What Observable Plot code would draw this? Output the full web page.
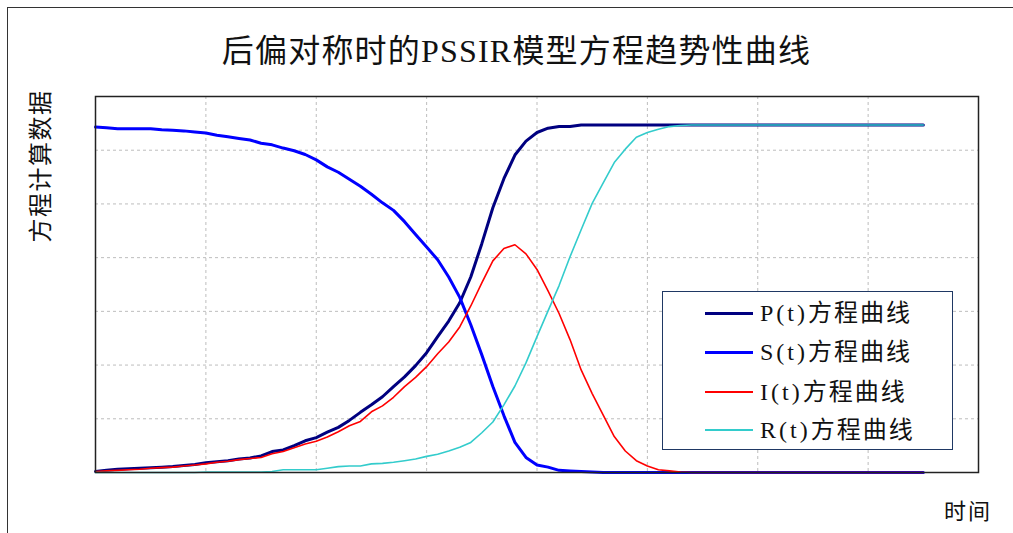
<!DOCTYPE html>
<html>
<head>
<meta charset="utf-8">
<script src="https://cdn.jsdelivr.net/npm/d3@7"></script>
<script src="https://cdn.jsdelivr.net/npm/@observablehq/plot@0.6"></script>
<style>
  html, body { margin: 0; padding: 0; background: #fff; width: 1013px; height: 533px; overflow: hidden; }
  #wrap { position: relative; width: 1013px; height: 533px; font-family: "Liberation Serif", "Noto Sans CJK SC", serif; color: #111; }
  #outer { position: absolute; left: 7px; top: 7px; width: 1100px; height: 700px; border-left: 1.5px solid #333; border-top: 1.5px solid #333; }
  #chart { position: absolute; left: 0; top: 0; }
  #title { position: absolute; left: 10px; width: 1013px; top: 31px; text-align: center; font-size: 32px; letter-spacing: 1.2px; line-height: 40px; }
  #ylabel { position: absolute; left: 41px; top: 166px; transform: translate(-50%, -50%) rotate(-90deg); font-size: 24px; letter-spacing: 1.5px; white-space: nowrap; line-height: 26px; }
  #xlabel { position: absolute; left: 968px; top: 509px; transform: translate(-50%, -50%); font-size: 22px; letter-spacing: 2px; white-space: nowrap; }
  #legend { position: absolute; left: 662px; top: 291px; width: 291px; height: 159px; box-sizing: border-box; border: 1.5px solid #1f3864; background: #fff; }
  .row { position: absolute; left: 0; height: 30px; display: flex; align-items: center; }
  .sw { position: absolute; left: 42px; width: 48px; }
  .lbl { position: absolute; left: 97px; font-size: 24px; white-space: nowrap; line-height: 30px; }
  .lat { letter-spacing: 3px; }
  .cjk { letter-spacing: 2px; }
</style>
</head>
<body>
<div id="wrap">
  <div id="outer"></div>
  <div id="chart"></div>
  <div id="title">后偏对称时的PSSIR模型方程趋势性曲线</div>
  <div id="ylabel">方程计算数据</div>
  <div id="xlabel">时间</div>
  <div id="legend"></div>
</div>
<script>
// time steps
const tValues = [0,1,2,3,4,5,6,7,8,9,10,11,12,13,14,15,16,17,18,19,20,21,22,23,24,25,26,27,28,29,30,31,32,33,34,35,36,37,38,39,40,41,42,43,44,45,46,47,48,49,50,51,52,53,54,55,56,57,58,59,60,61,62,63,64,65,66,67,68,69,70,71,72,73,74,75];

const seriesNames = ["P(t)方程曲线", "S(t)方程曲线", "I(t)方程曲线", "R(t)方程曲线"];

const P = [0.02,0.04,0.06,0.07,0.08,0.09,0.10,0.11,0.13,0.15,0.18,0.20,0.22,0.25,0.27,0.31,0.39,0.42,0.50,0.59,0.65,0.75,0.84,0.97,1.12,1.26,1.41,1.60,1.78,1.99,2.23,2.53,2.82,3.16,3.64,4.26,4.93,5.47,5.91,6.17,6.33,6.41,6.44,6.44,6.47,6.47,6.47,6.47,6.47,6.47,6.47,6.47,6.47,6.47,6.47,6.47,6.47,6.47,6.47,6.47,6.47,6.47,6.47,6.47,6.47,6.47,6.47,6.47,6.47,6.47,6.47,6.47,6.47,6.47,6.47,6.47];

const S = [6.43,6.42,6.40,6.40,6.40,6.40,6.38,6.37,6.36,6.34,6.32,6.28,6.25,6.22,6.19,6.13,6.10,6.04,5.99,5.92,5.82,5.69,5.59,5.46,5.33,5.18,5.02,4.88,4.67,4.43,4.20,3.96,3.64,3.26,2.75,2.19,1.60,1.06,0.56,0.28,0.14,0.10,0.04,0.03,0.02,0.01,0,0,0,0,0,0,0,0,0,0,0,0,0,0,0,0,0,0,0,0,0,0,0,0,0,0,0,0,0,0];

const I = [0.02,0.03,0.04,0.05,0.06,0.08,0.09,0.10,0.12,0.14,0.16,0.19,0.21,0.24,0.26,0.28,0.35,0.39,0.46,0.53,0.58,0.66,0.76,0.87,0.95,1.13,1.24,1.40,1.60,1.77,1.97,2.21,2.43,2.71,3.10,3.53,3.94,4.17,4.24,4.07,3.78,3.38,2.96,2.47,1.91,1.47,1.07,0.67,0.40,0.22,0.12,0.05,0.03,0.01,0,0,0,0,0,0,0,0,0,0,0,0,0,0,0,0,0,0,0,0,0,0];

const R = [0,0,0,0,0,0,0,0,0,0,0.01,0.01,0.01,0.01,0.01,0.01,0.02,0.05,0.05,0.05,0.05,0.08,0.11,0.12,0.12,0.16,0.17,0.19,0.22,0.25,0.30,0.34,0.40,0.47,0.56,0.74,0.94,1.26,1.61,2.04,2.53,3.01,3.48,4.02,4.52,5.01,5.39,5.77,6.02,6.24,6.33,6.39,6.44,6.46,6.47,6.47,6.47,6.47,6.47,6.47,6.47,6.47,6.47,6.47,6.47,6.47,6.47,6.47,6.47,6.47,6.47,6.47,6.47,6.47,6.47,6.47];

const colors = ["#000080", "#0000ff", "#ff0000", "#33cccc"];
const widths = [3, 3, 1.6, 1.6];

const seriesValues = [P, S, I, R];
const data = seriesValues.flatMap((vals, k) => vals.map((v, i) => ({t: tValues[i], v, s: seriesNames[k]})));

const chart = Plot.plot({
  width: 1013,
  height: 533,
  marginLeft: 95,
  marginRight: 35,
  marginTop: 96,
  marginBottom: 61,
  style: {background: "transparent", overflow: "visible"},
  x: {domain: [0, 80], axis: null},
  y: {domain: [0, 7], axis: null},
  marks: [
    Plot.gridX([10, 20, 30, 40, 50, 60, 70], {stroke: "#bdbdbd", strokeOpacity: 1, strokeDasharray: "3,3", strokeWidth: 1}),
    Plot.gridY([1, 2, 3, 4, 5, 6], {stroke: "#bdbdbd", strokeOpacity: 1, strokeDasharray: "3,3", strokeWidth: 1}),
    ...seriesNames.map((name, k) =>
      Plot.line(data.filter(d => d.s === name), {x: "t", y: "v", stroke: colors[k], strokeWidth: widths[k], strokeLinejoin: "round", curve: "linear"})
    ),
    Plot.frame({stroke: "#222", strokeWidth: 1.5})
  ]
});
document.getElementById("chart").appendChild(chart);

// legend
const legend = document.getElementById("legend");
const rowCenters = [21, 60, 100, 138];
seriesNames.forEach((name, k) => {
  const row = document.createElement("div");
  row.className = "row";
  row.style.top = (rowCenters[k] - 15) + "px";
  row.style.width = "100%";
  const sw = document.createElement("div");
  sw.className = "sw";
  sw.style.height = widths[k] + "px";
  sw.style.background = colors[k];
  sw.style.top = (15 - widths[k] / 2) + "px";
  const lbl = document.createElement("div");
  lbl.className = "lbl";
  const m = name.match(/^([A-Z]\(t\))(.*)$/);
  lbl.innerHTML = '<span class="lat">' + m[1] + '</span><span class="cjk">' + m[2] + '</span>';
  row.appendChild(sw);
  row.appendChild(lbl);
  legend.appendChild(row);
});
</script>
</body>
</html>
